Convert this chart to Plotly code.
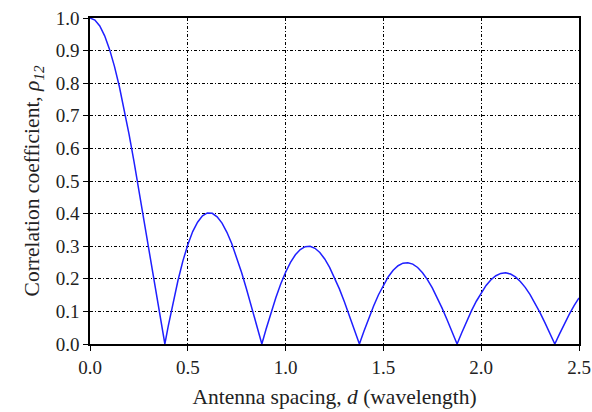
import plotly.graph_objects as go

# antenna spacing (wavelengths) and read-off correlation coefficient
spacing = [
    0.000, 0.025, 0.050, 0.075, 0.100, 0.125, 0.150, 0.175, 0.200, 0.225,
    0.250, 0.275, 0.300, 0.325, 0.350, 0.375, 0.3827, 0.400, 0.425, 0.450,
    0.475, 0.500, 0.525, 0.550, 0.575, 0.600, 0.625, 0.650, 0.675, 0.700,
    0.725, 0.750, 0.775, 0.800, 0.825, 0.850, 0.875, 0.8786, 0.900, 0.925,
    0.950, 0.975, 1.000, 1.025, 1.050, 1.075, 1.100, 1.125, 1.150, 1.175,
    1.200, 1.225, 1.250, 1.275, 1.300, 1.325, 1.350, 1.375, 1.3773, 1.400,
    1.425, 1.450, 1.475, 1.500, 1.525, 1.550, 1.575, 1.600, 1.625, 1.650,
    1.675, 1.700, 1.725, 1.750, 1.775, 1.800, 1.825, 1.850, 1.875, 1.8767,
    1.900, 1.925, 1.950, 1.975, 2.000, 2.025, 2.050, 2.075, 2.100, 2.125,
    2.150, 2.175, 2.200, 2.225, 2.250, 2.275, 2.300, 2.325, 2.350, 2.375,
    2.3763, 2.400, 2.425, 2.450, 2.475, 2.500,
]
rho = [
    1.000, 0.9938, 0.9755, 0.9453, 0.9037, 0.8516, 0.7899, 0.7199, 0.6425, 0.5594,
    0.4719, 0.3818, 0.2905, 0.1998, 0.1110, 0.0258, 0.000, 0.0547, 0.1287, 0.1956,
    0.2550, 0.3042, 0.3449, 0.3737, 0.3930, 0.4020, 0.4008, 0.3902, 0.3707, 0.3427,
    0.3074, 0.2659, 0.2194, 0.1687, 0.1158, 0.0616, 0.0075, 0.000, 0.0453, 0.0955,
    0.1419, 0.1838, 0.2202, 0.2503, 0.2737, 0.2898, 0.2985, 0.2997, 0.2936, 0.2805,
    0.2608, 0.2351, 0.2043, 0.1691, 0.1304, 0.0893, 0.0468, 0.0039, 0.000, 0.0383,
    0.0788, 0.1167, 0.1511, 0.1812, 0.2064, 0.2261, 0.2401, 0.2479, 0.2495, 0.2450,
    0.2347, 0.2187, 0.1976, 0.1720, 0.1425, 0.1100, 0.0752, 0.0391, 0.0025, 0.000,
    0.0337, 0.0686, 0.1014, 0.1312, 0.1575, 0.1796, 0.1970, 0.2094, 0.2165, 0.2183,
    0.2147, 0.2058, 0.1920, 0.1737, 0.1513, 0.1255, 0.0969, 0.0662, 0.0342, 0.0017,
    0.000, 0.0304, 0.0615, 0.0908, 0.1176, 0.1412,
]

x_ticks = [0.0, 0.5, 1.0, 1.5, 2.0, 2.5]
y_ticks = [0.0, 0.1, 0.2, 0.3, 0.4, 0.5, 0.6, 0.7, 0.8, 0.9, 1.0]

font = "Liberation Serif"

fig = go.Figure()
fig.add_trace(go.Scatter(
    x=spacing, y=rho, mode="lines",
    line=dict(color="#1f1fff", width=1.5),
    showlegend=False,
))

axis_common = dict(
    showline=True, linecolor="black", linewidth=1.5, mirror=True,
    ticks="outside", ticklen=5, tickcolor="black", tickwidth=1.2,
    showgrid=True, gridcolor="black", gridwidth=0.8, griddash="3px,2px,1px,2px",
    zeroline=False, tickformat=".1f", automargin=False,
    ticklabeloverflow="allow",
    tickfont=dict(family=font, size=19, color="#222"),
)

fig.update_xaxes(
    range=[0, 2.5], tickvals=x_ticks,
    title=dict(text="Antenna spacing, <i>d</i> (wavelength)",
               font=dict(family=font, size=21.5, color="#222"), standoff=12),
    **axis_common,
)
fig.update_yaxes(
    range=[0, 1.0], tickvals=y_ticks,
    title=dict(text="Correlation coefficient, <i>ρ</i><sub><i>12</i></sub>",
               font=dict(family=font, size=21.5, color="#222"), standoff=10),
    **axis_common,
)

fig.update_layout(
    width=592, height=412,
    margin=dict(l=90, r=13, t=18, b=68),
    plot_bgcolor="white", paper_bgcolor="white",
    font=dict(family=font),
)

# drop the default page margin so the figure sits at the window's corner
fig.write_html(
    "out.html",
    config={"displayModeBar": False},
    post_script="document.body.style.margin='0';",
)
